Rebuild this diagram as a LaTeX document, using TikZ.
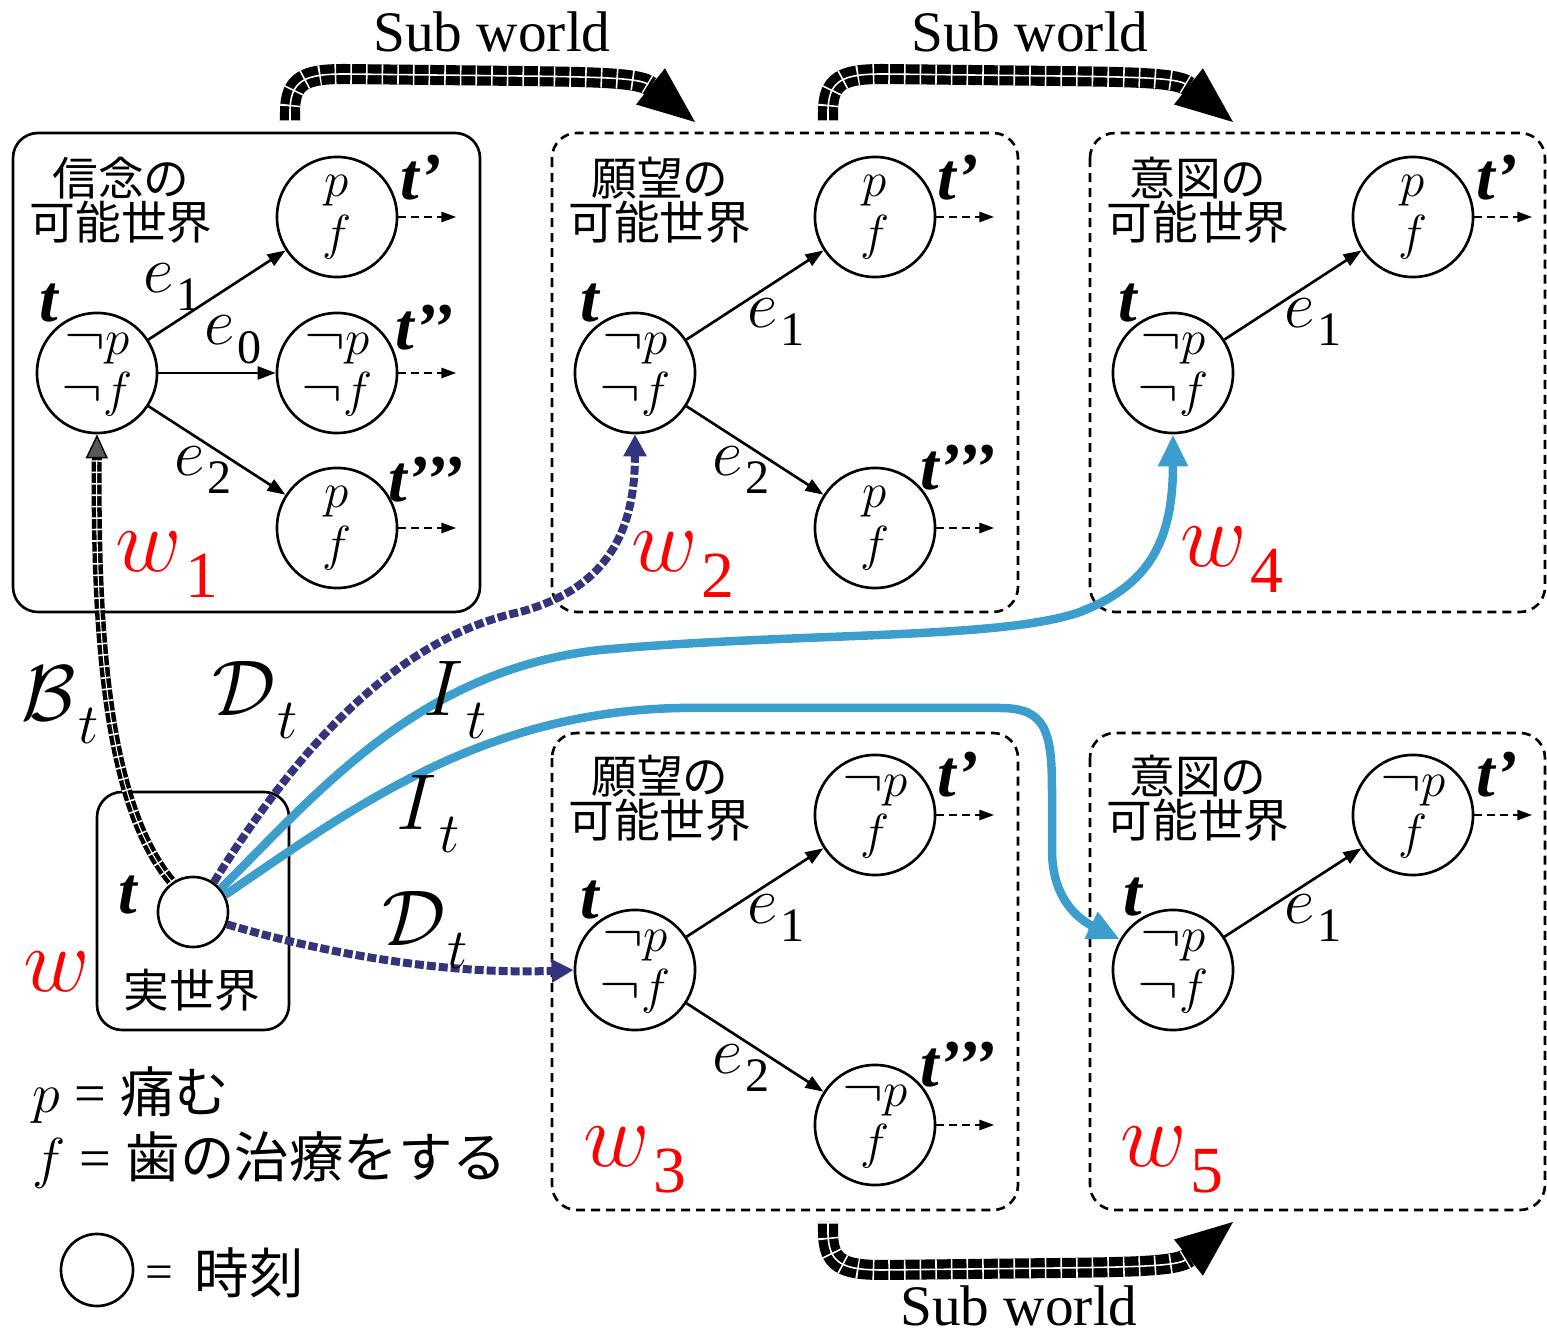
\RequirePackage{fix-cm}
\documentclass[tikz,border=0pt]{standalone}
\usepackage{fontspec}
\usepackage{graphicx}
\setmainfont{Liberation Serif}
\newfontfamily\jpfont{Noto Sans CJK JP}
\usetikzlibrary{arrows.meta}
\definecolor{dnavy}{RGB}{52,52,125}
\definecolor{iblue}{RGB}{60,158,204}
\definecolor{wred}{RGB}{255,0,0}
\newcommand{\sz}[1]{\fontsize{#1}{#1}\selectfont}
\newcommand{\lbl}[2]{#1\kern0.03em\raisebox{-0.28em}{\scalebox{0.72}{#2}}}
\newcommand{\negsym}{\scalebox{1.25}[1.15]{$\neg$}}
\newcommand{\subworld}[1]{%
  \draw[swmain] #1;
  \draw[swtick] #1;
  \draw[swline] #1;}
\newcommand{\brickarrow}[1]{%
  \draw[bmain] #1;
  \draw[btick] #1;
  \draw[bline] #1;}
\tikzset{
  st/.style={circle, draw, line width=0.75pt, fill=white, minimum size=1.2cm,
    inner sep=0pt, align=center, font=\fontsize{14}{15}\selectfont},
  ed/.style={line width=0.75pt, -{Triangle[length=0.18cm,width=0.13cm]}},
  cont/.style={line width=0.75pt, dash pattern=on 0.08cm off 0.05cm,
    -{Triangle[length=0.15cm,width=0.1cm]}},
  sbox/.style={rounded corners=0.25cm, line width=0.75pt},
  dbox/.style={rounded corners=0.25cm, line width=0.75pt, dash pattern=on 0.09cm off 0.06cm},
  tlab/.style={font=\sz{19}\bfseries\itshape, inner sep=0pt},
  elab/.style={font=\sz{19}, inner sep=0pt},
  wlab/.style={font=\sz{26}, text=wred, inner sep=0pt},
  alab/.style={font=\sz{22.5}, inner sep=0pt},
  jpt/.style={font=\jpfont\fontsize{13}{12.5}\selectfont, align=center, inner sep=0pt},
  swlab/.style={font=\sz{16.3}, inner sep=0pt},
  swmain/.style={line width=0.2cm, black,
    -{Triangle[length=0.57cm,width=0.46cm,line width=0.4pt]}},
  swtick/.style={white, line width=0.2cm, dash pattern=on 0.45pt off 4pt, shorten >=0.6cm},
  swline/.style={white, line width=0.45pt, shorten >=0.6cm},
  bmain/.style={line width=0.1cm, black,
    -{Triangle[length=0.24cm,width=0.22cm,line width=0.4pt,fill=black!65]}},
  btick/.style={white, line width=0.1cm, dash pattern=on 0.45pt off 2.8pt, shorten >=0.26cm},
  bline/.style={white, line width=0.3pt, shorten >=0.26cm},
  darr/.style={dnavy, line width=0.08cm, dash pattern=on 0.09cm off 0.03cm,
    -{Triangle[length=0.22cm,width=0.22cm]}},
  iarr/.style={iblue, line width=0.085cm,
    -{Triangle[length=0.32cm,width=0.28cm]}},
}
\begin{document}
\begin{tikzpicture}[x=0.01cm,y=-0.01cm]
\useasboundingbox (0,0) rectangle (1547,1334);

% ---------- boxes ----------
\draw[sbox] (13,133) rectangle (480,612);
\draw[dbox] (552,133) rectangle (1018,612);
\draw[dbox] (1090,133) rectangle (1545,612);
\draw[dbox] (552,733) rectangle (1018,1210);
\draw[dbox] (1090,733) rectangle (1545,1210);
\draw[sbox] (97,792) rectangle (289,1030);

% ---------- titles ----------
\node[jpt] (tt1) at (121,200) {信念の\\可能世界};
\node[jpt] (tt2) at (660,200) {願望の\\可能世界};
\node[jpt] (tt4) at (1198,200) {意図の\\可能世界};
\node[jpt] (tt3) at (660,798) {願望の\\可能世界};
\node[jpt] (tt5) at (1198,798) {意図の\\可能世界};

% ---------- w1 ----------
\node[st] (b1t) at (97,373) {\negsym$p$\\\negsym$f$};
\node[st] (b1a) at (337,217) {$p$\\$f$};
\node[st] (b1b) at (337,373) {\negsym$p$\\\negsym$f$};
\node[st] (b1c) at (337,528) {$p$\\$f$};
\draw[ed] (b1t) -- (b1a);
\draw[ed] (b1t) -- (b1b);
\draw[ed] (b1t) -- (b1c);
\draw[cont] (b1a.east) -- ++(58,0);
\draw[cont] (b1b.east) -- ++(58,0);
\draw[cont] (b1c.east) -- ++(58,0);
\node[tlab] (l1t) at (49,303) {t};
\node[tlab] (l1a) at (421,178) {t’};
\node[tlab] (l1b) at (425,328) {t’’};
\node[tlab] (l1c) at (426,480) {t’’’};
\node[elab] (e11) at (172,287) {\lbl{$e$}{1}};
\node[elab] (e10) at (233,340) {\lbl{$e$}{0}};
\node[elab] (e12) at (203,470) {\lbl{$e$}{2}};
\node[wlab] (w1) at (167,565) {\lbl{$w$}{1}};

% ---------- w2 ----------
\node[st] (d2t) at (635,373) {\negsym$p$\\\negsym$f$};
\node[st] (d2a) at (875,217) {$p$\\$f$};
\node[st] (d2c) at (875,528) {$p$\\$f$};
\draw[ed] (d2t) -- (d2a);
\draw[ed] (d2t) -- (d2c);
\draw[cont] (d2a.east) -- ++(58,0);
\draw[cont] (d2c.east) -- ++(58,0);
\node[tlab] (l2t) at (590,303) {t};
\node[tlab] (l2a) at (958,178) {t’};
\node[tlab] (l2c) at (958,468) {t’’’};
\node[elab] (e21) at (776,322) {\lbl{$e$}{1}};
\node[elab] (e22) at (741,470) {\lbl{$e$}{2}};
\node[wlab] (w2) at (683,565) {\lbl{$w$}{2}};

% ---------- w4 ----------
\node[st] (i4t) at (1173,373) {\negsym$p$\\\negsym$f$};
\node[st] (i4a) at (1413,217) {$p$\\$f$};
\draw[ed] (i4t) -- (i4a);
\draw[cont] (i4a.east) -- ++(58,0);
\node[tlab] (l4t) at (1128,303) {t};
\node[tlab] (l4a) at (1497,178) {t’};
\node[elab] (e41) at (1313,322) {\lbl{$e$}{1}};
\node[wlab] (w4) at (1232,560) {\lbl{$w$}{4}};

% ---------- w3 ----------
\node[st] (d3t) at (635,970) {\negsym$p$\\\negsym$f$};
\node[st] (d3a) at (875,815) {\negsym$p$\\$f$};
\node[st] (d3c) at (875,1125) {\negsym$p$\\$f$};
\draw[ed] (d3t) -- (d3a);
\draw[ed] (d3t) -- (d3c);
\draw[cont] (d3a.east) -- ++(58,0);
\draw[cont] (d3c.east) -- ++(58,0);
\node[tlab] (l3t) at (590,900) {t};
\node[tlab] (l3a) at (958,775) {t’};
\node[tlab] (l3c) at (958,1065) {t’’’};
\node[elab] (e31) at (776,918) {\lbl{$e$}{1}};
\node[elab] (e32) at (741,1068) {\lbl{$e$}{2}};
\node[wlab] (w3) at (635,1160) {\lbl{$w$}{3}};

% ---------- w5 ----------
\node[st] (i5t) at (1173,970) {\negsym$p$\\\negsym$f$};
\node[st] (i5a) at (1413,815) {\negsym$p$\\$f$};
\draw[ed] (i5t) -- (i5a);
\draw[cont] (i5a.east) -- ++(58,0);
\node[tlab] (l5t) at (1133,897) {t};
\node[tlab] (l5a) at (1497,775) {t’};
\node[elab] (e51) at (1313,918) {\lbl{$e$}{1}};
\node[wlab] (w5) at (1172,1160) {\lbl{$w$}{5}};

% ---------- real world ----------
\node[circle, draw, line width=0.75pt, fill=white, minimum size=0.7cm, inner sep=0pt] (real) at (193,912) {};
\node[tlab] (lrt) at (128,895) {t};
\node[wlab] (w0) at (57,972) {$w$};
\node[font=\jpfont\sz{13}, inner sep=0pt] (rw) at (192,990) {実世界};

% ---------- sub world arrows ----------
\coordinate (sw1s) at (290,122);
\coordinate (sw1e) at (695,122);
\coordinate (sw2s) at (828,122);
\coordinate (sw2e) at (1233,122);
\coordinate (sw3s) at (828,1222);
\coordinate (sw3e) at (1233,1222);
\subworld{(sw1s) -- (290,112) .. controls (290,80) and (305,74) .. (345,74) -- (520,76) .. controls (600,77) and (640,78) .. (sw1e)}
\subworld{(sw2s) -- (828,112) .. controls (828,80) and (843,74) .. (883,74) -- (1058,76) .. controls (1138,77) and (1178,78) .. (sw2e)}
\subworld{(sw3s) -- (828,1232) .. controls (828,1264) and (843,1270) .. (883,1270) -- (1058,1268) .. controls (1138,1267) and (1178,1266) .. (sw3e)}
\node[swlab] (sl1) at (492,32) {Sub world};
\node[swlab] (sl2) at (1030,32) {Sub world};
\node[swlab] (sl3) at (1019,1306) {Sub world};

% ---------- accessibility arrows ----------
\brickarrow{(real.125) .. controls (110,810) and (95,650) .. (b1t.south)}
\draw[darr] (real.55) .. controls (290,760) and (390,640) .. (520,612) .. controls (600,590) and (635,540) .. (d2t.south);
\draw[darr] (real.-20) .. controls (330,955) and (450,975) .. (d3t.west);
\draw[iarr] (real.40) .. controls (320,790) and (420,670) .. (600,650) .. controls (800,632) and (1000,640) .. (1080,612) .. controls (1150,585) and (1173,540) .. (i4t.south);
\draw[iarr] (real.28) .. controls (350,810) and (480,712) .. (680,708) -- (1000,708) .. controls (1045,708) and (1052,730) .. (1052,790) -- (1052,850) .. controls (1052,900) and (1080,920) .. (i5t.150);

\node[alab] (lb) at (60,705) {\lbl{$\mathcal{B}$}{$t$}};
\node[alab] (ld1) at (255,700) {\lbl{$\mathcal{D}$}{$t$}};
\node[alab] (li1) at (455,700) {\lbl{$I$}{$t$}};
\node[alab] (li2) at (428,814) {\lbl{$I$}{$t$}};
\node[alab] (ld2) at (425,930) {\lbl{$\mathcal{D}$}{$t$}};

% ---------- legend ----------
\node[anchor=west, inner sep=0pt] (lg1) at (32,1095) {\sz{16}$p$ = {\jpfont\sz{15.5}痛む}};
\node[anchor=west, inner sep=0pt] (lg2) at (32,1160) {\sz{16}$f$ = {\jpfont\sz{15.5}歯の治療をする}};
\node[circle, draw, line width=0.75pt, minimum size=0.72cm, inner sep=0pt] (lgc) at (97,1270) {};
\node[anchor=west, inner sep=0pt] (lg3) at (145,1273) {\sz{14}\raisebox{0.1em}{=}\hspace{6pt}{\jpfont\sz{15.5}時刻}};
\end{tikzpicture}
\end{document}
